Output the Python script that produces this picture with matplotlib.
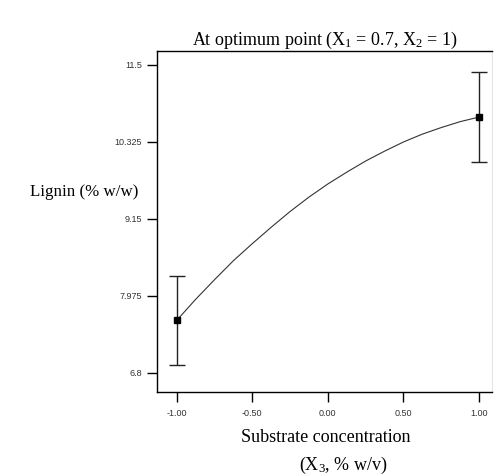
import matplotlib
matplotlib.use("Agg")
import matplotlib.pyplot as plt

# design points with error bars
x_pts = [-1.0, 1.0]
y_pts = [7.60, 10.70]
y_err = [0.68, 0.69]

# predicted curve
x_curve = [-1.0, -0.875, -0.75, -0.625, -0.5, -0.375, -0.25, -0.125, 0.0,
           0.125, 0.25, 0.375, 0.5, 0.625, 0.75, 0.875, 1.0]
y_curve = [7.60, 7.92, 8.22, 8.51, 8.77, 9.02, 9.26, 9.48, 9.68,
           9.86, 10.03, 10.18, 10.32, 10.44, 10.54, 10.63, 10.70]

x_ticks = [-1.0, -0.5, 0.0, 0.5, 1.0]
x_ticklabels = ["-1.00", "-0.50", "0.00", "0.50", "1.00"]
y_ticks = [6.8, 7.975, 9.15, 10.325, 11.5]
y_ticklabels = ["6.8", "7.975", "9.15", "10.325", "11.5"]

serif = ["Liberation Serif", "DejaVu Serif"]
plt.rcParams["mathtext.fontset"] = "custom"
plt.rcParams["mathtext.rm"] = "Liberation Serif"
plt.rcParams["mathtext.it"] = "Liberation Serif:italic"

fig = plt.figure(figsize=(4.97, 4.75), dpi=100)
ax = fig.add_axes([0.316, 0.175, 0.674, 0.718])

ax.plot(x_curve, y_curve, color="#333333", lw=0.8)
ax.errorbar(x_pts, y_pts, yerr=y_err, fmt="s", color="black", ms=4.5,
            ecolor="#222222", elinewidth=1.0, capsize=6, capthick=1.0)

ax.set_xlim(-1.13, 1.086)
ax.set_ylim(6.51, 11.71)
ax.set_xticks(x_ticks)
ax.set_xticklabels(x_ticklabels)
ax.set_yticks(y_ticks)
ax.set_yticklabels(y_ticklabels)
ax.tick_params(axis="both", direction="out", length=7, width=1.0,
               labelsize=6.5, colors="black", labelcolor="#333333")
ax.tick_params(axis="y", pad=4)
ax.tick_params(axis="x", pad=5)
for lab in ax.get_xticklabels() + ax.get_yticklabels():
    lab.set_family(["Liberation Sans", "DejaVu Sans"])

for s in ["left", "top", "bottom"]:
    ax.spines[s].set_linewidth(1.0)
ax.spines["right"].set_color("#e6e6e6")
ax.spines["right"].set_linewidth(0.8)

ax.set_title(r"At optimum point (X$_\mathrm{1}$ = 0.7, X$_\mathrm{2}$ = 1)",
             family=serif, fontsize=13, pad=2)
ax.text(-0.057, 0.585, "Lignin (% w/w)", transform=ax.transAxes,
        ha="right", va="center", family=serif, fontsize=12.2)
fig.text(326 / 497, 1 - 438 / 475, "Substrate concentration", ha="center",
         va="center", family=serif, fontsize=13)
fig.text(343 / 497, 1 - 465 / 475, r"(X$_\mathrm{3}$, % w/v)", ha="center",
         va="center", family=serif, fontsize=13)

fig.savefig("out.png", dpi=100)
